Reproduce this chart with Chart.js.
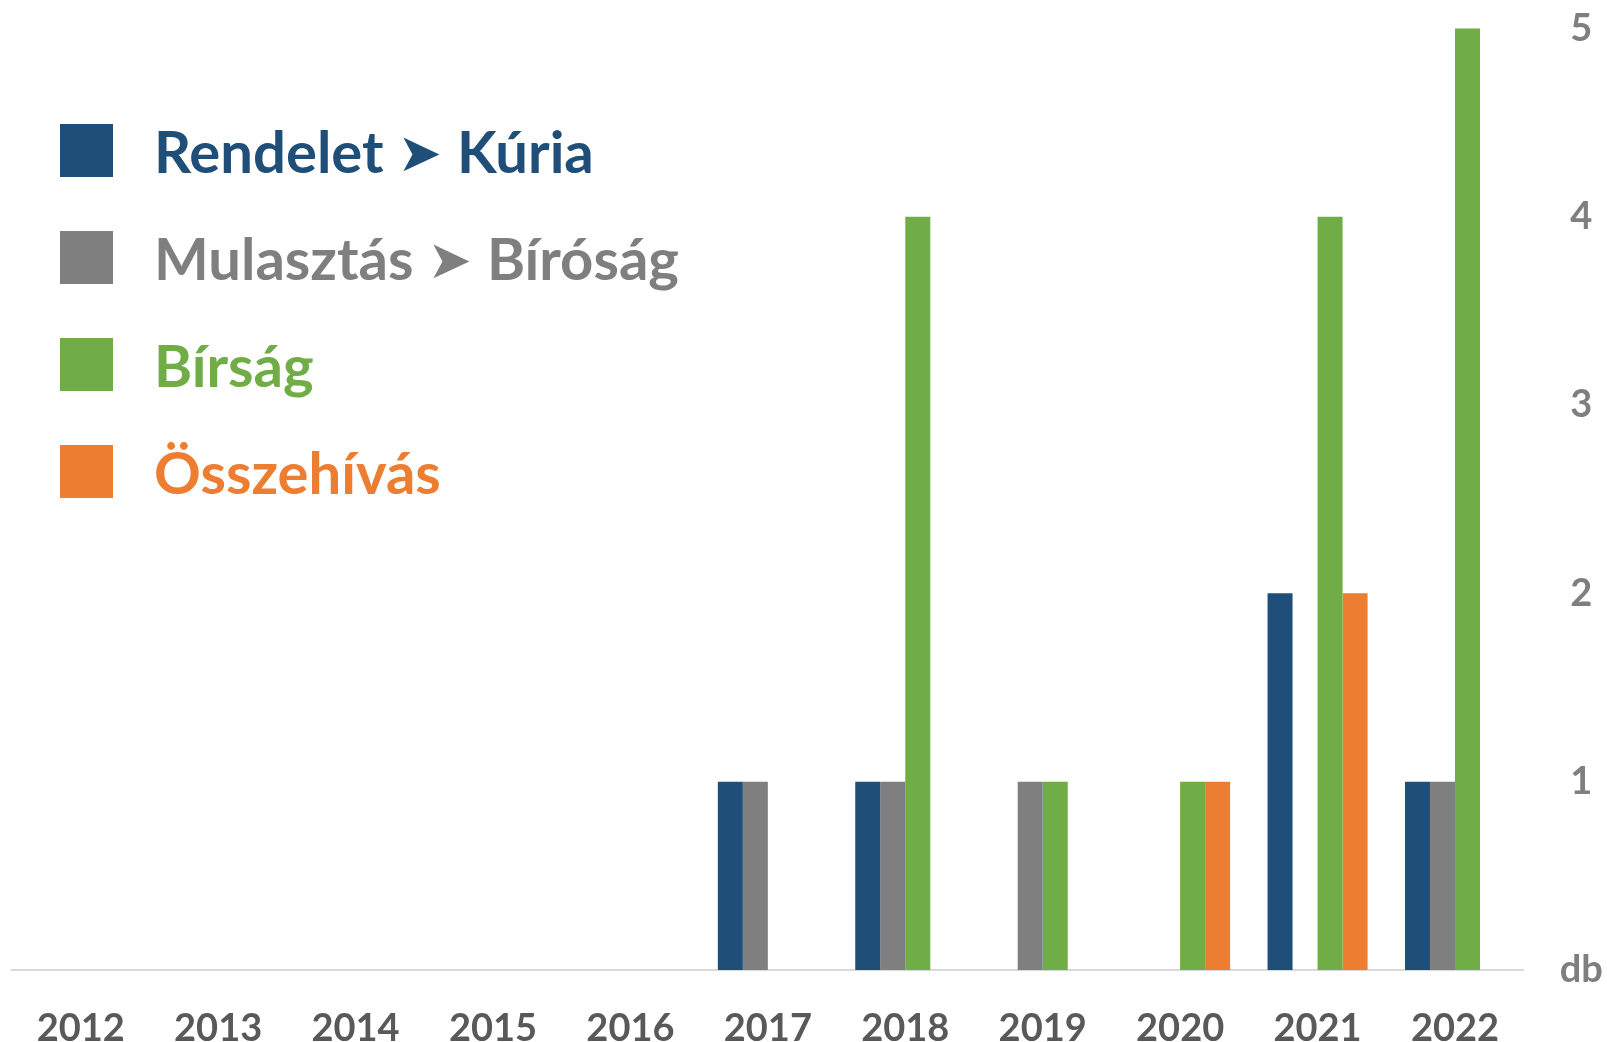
<!DOCTYPE html>
<html>
<head>
<meta charset="utf-8">
<script src="https://cdn.jsdelivr.net/npm/chart.js@4.4.0/dist/chart.umd.min.js"></script>
<style>
  html, body { margin: 0; padding: 0; background: #fff; }
  #wrap { position: relative; width: 1607px; height: 1042px; }
  #legend { position: absolute; left: 60px; top: 124px; font-family: Lato, 'DejaVu Sans', sans-serif; font-weight: bold; font-size: 58px; }
  .row { display: flex; align-items: center; height: 53px; margin-bottom: 54px; white-space: nowrap; }
  .box { width: 53px; height: 53px; margin-right: 41px; flex: none; }
  .arr { font-family: 'DejaVu Sans', sans-serif; font-size: 53px; margin: 0 15px 0 14px; position: relative; top: -2px; }
</style>
</head>
<body>
<div id="wrap">
  <canvas id="myChart"></canvas>
  <div id="legend"></div>
</div>
<script>
// adatok
var years = ['2012', '2013', '2014', '2015', '2016', '2017', '2018', '2019', '2020', '2021', '2022'];
var rendeletKuria    = [0, 0, 0, 0, 0, 1, 1, 0, 0, 2, 1];
var mulasztasBirosag = [0, 0, 0, 0, 0, 1, 1, 1, 0, 0, 1];
var birsag           = [0, 0, 0, 0, 0, 0, 4, 1, 1, 4, 5];
var osszehivas       = [0, 0, 0, 0, 0, 0, 0, 0, 1, 2, 0];

var seriesNames = ['Rendelet ➤ Kúria', 'Mulasztás ➤ Bíróság', 'Bírság', 'Összehívás'];
var seriesColors = ['#1F4E79', '#7F7F7F', '#70AD47', '#ED7D31'];
var yTicks = [0, 1, 2, 3, 4, 5];

Chart.defaults.font.family = 'Lato';
Chart.defaults.font.weight = 'bold';

var allData = [rendeletKuria, mulasztasBirosag, birsag, osszehivas];
var datasets = allData.map(function(d, i) {
    return {
        label: seriesNames[i],
        data: d,
        backgroundColor: seriesColors[i],
        borderWidth: 0,
        barPercentage: 1,
        categoryPercentage: 0.728
    };
});

var ctx = document.getElementById('myChart').getContext('2d');
var myChart = new Chart(ctx, {
    type: 'bar',
    data: { labels: years, datasets: datasets },
    options: {
        responsive: true,
        maintainAspectRatio: false,
        animation: false,
        layout: { padding: { left: 12, top: 0, right: 0, bottom: 0 } },
        plugins: { legend: { display: false }, tooltip: { enabled: false } },
        scales: {
            x: {
                grid: { display: false, drawTicks: false },
                border: { display: true, color: '#D9D9D9', width: 2 },
                ticks: { color: '#595959', font: { size: 38, weight: 'bold' }, padding: 36, maxRotation: 0 },
                afterFit: function(scale) { scale.height = 72; }
            },
            y: {
                position: 'right',
                min: 0,
                max: 5,
                grid: { display: false, drawTicks: false },
                border: { display: false },
                afterBuildTicks: function(scale) {
                    scale.ticks = yTicks.map(function(v) { return { value: v }; });
                },
                ticks: {
                    color: '#7F7F7F',
                    font: { size: 38, weight: 'bold' },
                    padding: 36,
                    crossAlign: 'center',
                    callback: function(value) { return value === 0 ? 'db' : value; }
                },
                afterFit: function(scale) {
                    scale.width = 83.3;
                    scale.paddingTop = 28.3;
                    scale.paddingBottom = 0;
                }
            }
        }
    }
});

// jelmagyarázat
var legend = document.getElementById('legend');
seriesNames.forEach(function(name, i) {
    var row = document.createElement('div');
    row.className = 'row';
    row.style.color = seriesColors[i];
    var box = document.createElement('div');
    box.className = 'box';
    box.style.background = seriesColors[i];
    row.appendChild(box);
    var txt = document.createElement('span');
    txt.innerHTML = name.replace(' ➤ ', '<span class="arr">➤</span>');
    row.appendChild(txt);
    legend.appendChild(row);
});
</script>
</body>
</html>
